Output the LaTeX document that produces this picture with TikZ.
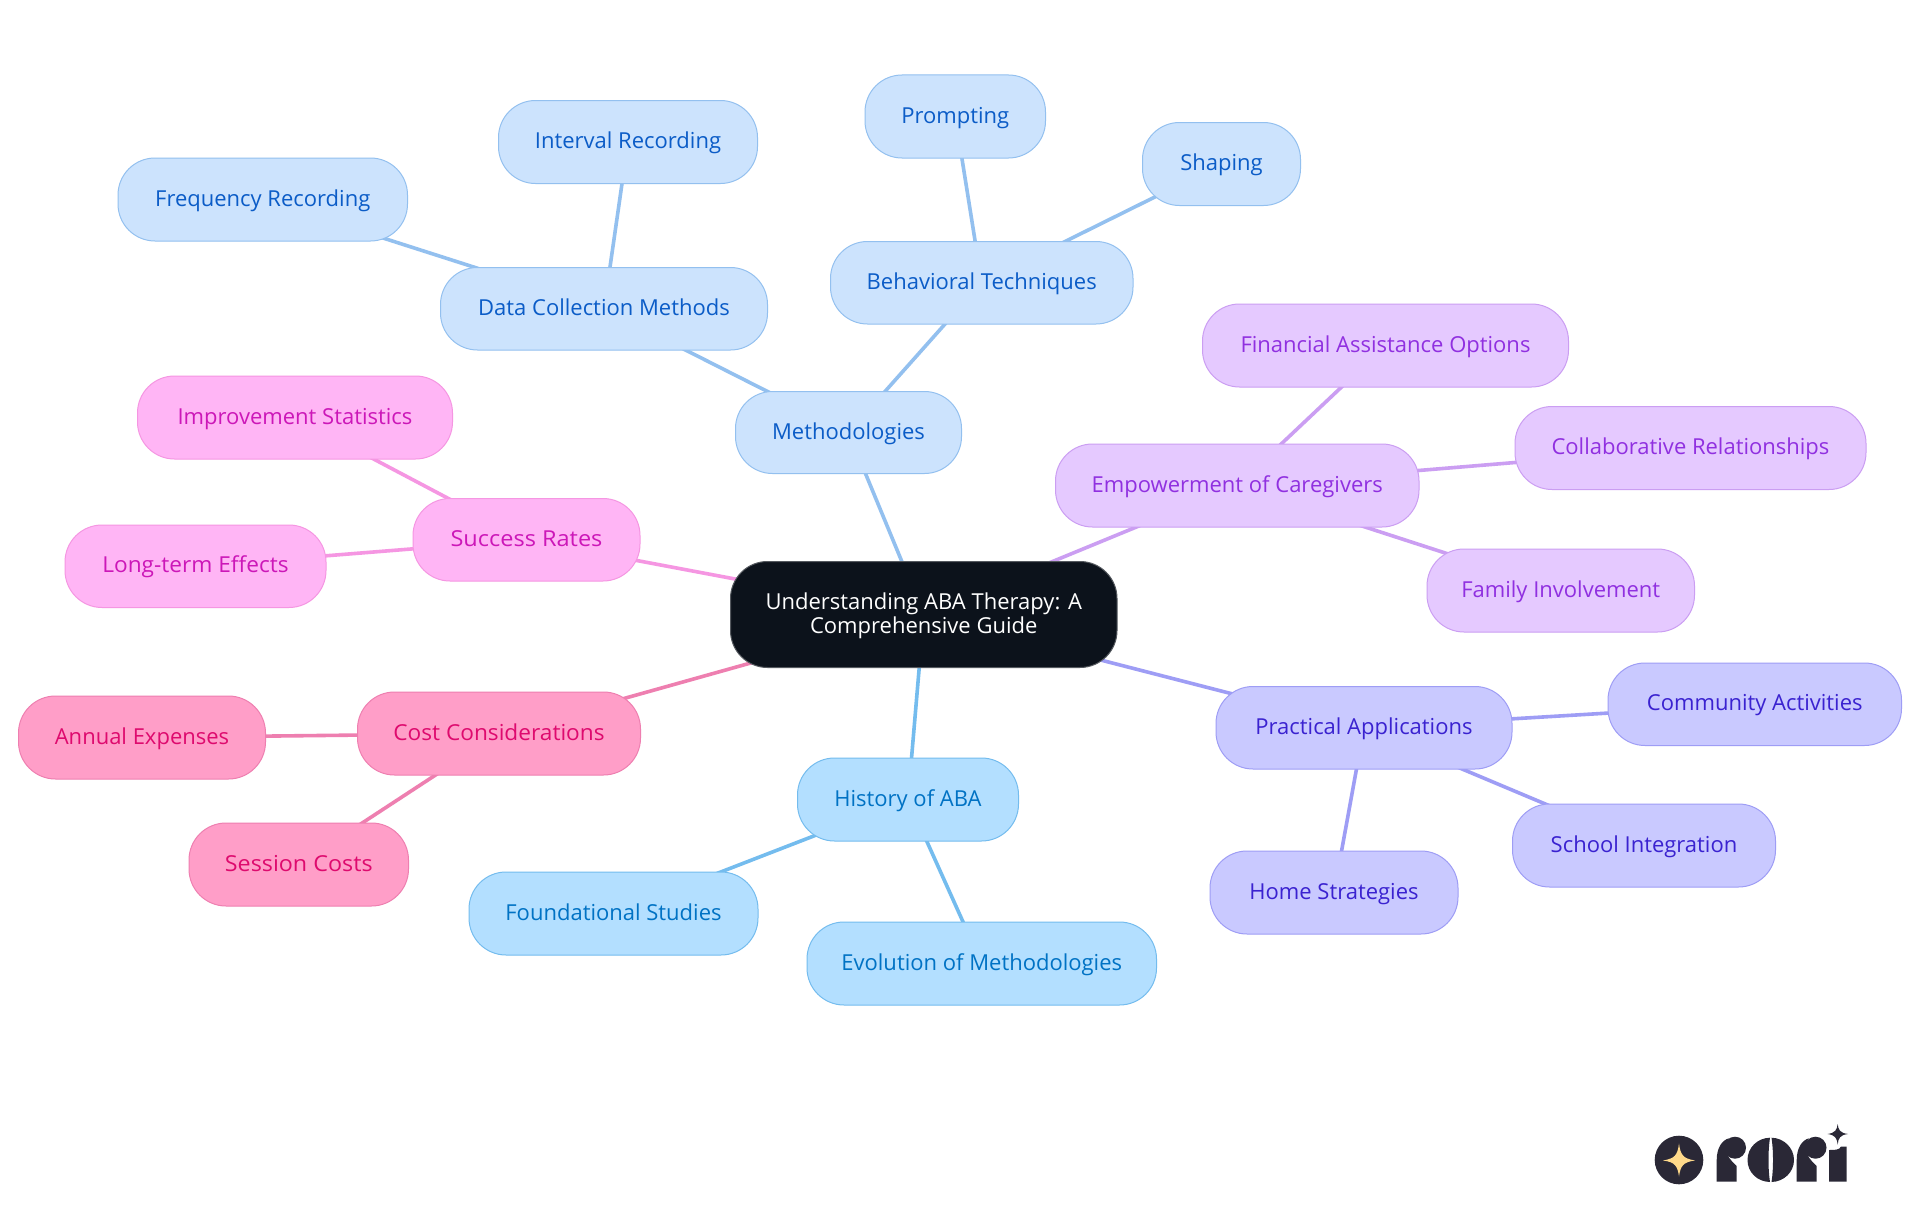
\documentclass[tikz,border=0pt]{standalone}
\usepackage{fontspec}
\setmainfont{Open Sans}
\usetikzlibrary{backgrounds}
\definecolor{bluefill}{HTML}{CCE3FD}\definecolor{blueline}{HTML}{93C0EF}\definecolor{bluetext}{HTML}{0B5CC7}
\definecolor{skyfill}{HTML}{B3DFFF}\definecolor{skyline}{HTML}{74BCEE}\definecolor{skytext}{HTML}{0072C4}
\definecolor{indfill}{HTML}{C9C9FF}\definecolor{indline}{HTML}{9E9DF5}\definecolor{indtext}{HTML}{3A22D0}
\definecolor{purfill}{HTML}{E5C9FF}\definecolor{purline}{HTML}{CB9EF2}\definecolor{purtext}{HTML}{9030E0}
\definecolor{magfill}{HTML}{FFB5F5}\definecolor{magline}{HTML}{F596E2}\definecolor{magtext}{HTML}{CC17B8}
\definecolor{pinkfill}{HTML}{FF9EC8}\definecolor{pinkline}{HTML}{EE7FB0}\definecolor{pinktext}{HTML}{DE0A6E}
\definecolor{rootfill}{HTML}{0C121B}\definecolor{logodark}{HTML}{2A2836}\definecolor{logostar}{HTML}{FFD98A}
\tikzset{
  x=1pt,y=-1pt,
  box/.style={rounded corners=37pt,line width=1pt,inner sep=0pt,outer sep=0pt,font=\fontsize{22}{24}\selectfont,align=center,anchor=center},
  leafbox/.style={box,text height=18pt,text depth=5pt},
  bluebox/.style={leafbox,fill=bluefill,draw=blueline,text=bluetext},
  skybox/.style={leafbox,fill=skyfill,draw=skyline,text=skytext},
  indbox/.style={leafbox,fill=indfill,draw=indline,text=indtext},
  purbox/.style={leafbox,fill=purfill,draw=purline,text=purtext},
  magbox/.style={leafbox,fill=magfill,draw=magline,text=magtext},
  pinkbox/.style={leafbox,fill=pinkfill,draw=pinkline,text=pinktext},
  rootbox/.style={box,text depth=3.5pt,fill=rootfill,draw=rootfill!70!white,text=white},
  edge/.style={line width=3.6pt}
}
\newcommand{\bx}[7]{\node[#1,minimum width=#5pt-#3pt,minimum height=#6pt-#4pt] (#2) at ({(#3+#5)/2},{(#4+#6)/2}) {#7};}
\newcommand{\wide}[2]{{\addfontfeature{FakeStretch=#1}#2}}
\begin{document}
\begin{tikzpicture}
\useasboundingbox (0,0) rectangle (1920,1215);
\bx{rootbox}{root}{730.5}{561.5}{1117}{667.5}{Understanding ABA Therapy: A\\Comprehensive Guide}
\bx{bluebox}{meth}{735.5}{391.5}{961.5}{473.5}{Methodologies}
\bx{bluebox}{data}{440.5}{267.5}{767.5}{350}{Data Collection Methods}
\bx{bluebox}{behav}{830.5}{241.5}{1133}{324}{Behavioral Techniques}
\bx{bluebox}{inter}{498.5}{100.5}{757.5}{183.5}{Interval Recording}
\bx{bluebox}{freq}{118}{158}{407.5}{241}{Frequency Recording}
\bx{bluebox}{prompt}{865}{75}{1045.5}{158}{Prompting}
\bx{bluebox}{shape}{1142.5}{122.5}{1300.5}{205.5}{Shaping}
\bx{purbox}{empow}{1055.5}{444}{1419}{527}{Empowerment of Caregivers}
\bx{purbox}{finan}{1202.5}{304}{1568.5}{387}{Financial Assistance Options}
\bx{purbox}{collab}{1515}{406.5}{1866}{489.5}{Collaborative Relationships}
\bx{purbox}{family}{1427}{549}{1694.5}{632}{Family Involvement}
\bx{indbox}{pract}{1216}{686.5}{1512}{769}{Practical Applications}
\bx{indbox}{commun}{1608}{663}{1901.5}{745.5}{Community Activities}
\bx{indbox}{school}{1512.5}{804}{1775.5}{887}{School Integration}
\bx{indbox}{home}{1210}{851}{1458}{934}{Home Strategies}
\bx{skybox}{hist}{797.5}{758}{1018.5}{841}{History of ABA}
\bx{skybox}{found}{469}{872}{758}{955}{Foundational Studies}
\bx{skybox}{evol}{807}{922}{1156.5}{1005}{Evolution of Methodologies}
\bx{pinkbox}{cost}{357.5}{692}{640.5}{775}{\wide{1.03}{Cost Considerations}}
\bx{pinkbox}{annual}{18.5}{696}{265.5}{779}{Annual Expenses}
\bx{pinkbox}{session}{189}{823}{408.5}{906}{\wide{1.06}{Session Costs}}
\bx{magbox}{succ}{413}{498.5}{640}{581}{\wide{1.07}{Success Rates}}
\bx{magbox}{improve}{137.5}{376}{452.5}{459}{Improvement Statistics}
\bx{magbox}{long}{65}{525}{326}{607.5}{\wide{1.03}{Long-term Effects}}
\begin{scope}[on background layer]
\fill[white] (0,0) rectangle (1920,1215);
\draw[edge,blueline] (root.center)--(meth.center) (meth.center)--(data.center) (meth.center)--(behav.center)
  (data.center)--(inter.center) (data.center)--(freq.center) (behav.center)--(prompt.center) (behav.center)--(shape.center);
\draw[edge,purline] (root.center)--(empow.center) (empow.center)--(finan.center) (empow.center)--(collab.center) (empow.center)--(family.center);
\draw[edge,indline] (root.center)--(pract.center) (pract.center)--(commun.center) (pract.center)--(school.center) (pract.center)--(home.center);
\draw[edge,skyline] (root.center)--(hist.center) (hist.center)--(found.center) (hist.center)--(evol.center);
\draw[edge,pinkline] (root.center)--(cost.center) (cost.center)--(annual.center) (cost.center)--(session.center);
\draw[edge,magline] (root.center)--(succ.center) (succ.center)--(improve.center) (succ.center)--(long.center);
\end{scope}
% logo
\fill[logodark] (1679,1160) circle (24.3);
\fill[logostar] (1679,1143.5) .. controls (1680.5,1155) and (1683,1158.5) .. (1695,1160.5) .. controls (1683,1162) and (1680.5,1166) .. (1679,1176.5) .. controls (1677.5,1166) and (1675,1162) .. (1663,1160.5) .. controls (1675,1158.5) and (1677.5,1155) .. (1679,1143.5) -- cycle;
% r
\fill[logodark] (1716.7,1181.7) -- (1716.7,1160) .. controls (1716.7,1148) and (1722,1140) .. (1729,1138.3) .. controls (1723,1146) and (1725,1156) .. (1736.7,1166) -- (1736.7,1181.7) -- cycle;
\fill[logodark] (1735,1147.7) circle (11);
% o
\fill[logodark] (1770,1137.7) .. controls (1757,1138) and (1747.5,1148) .. (1747.5,1160) .. controls (1747.5,1172) and (1757,1181.7) .. (1770,1182) .. controls (1768,1170) and (1768,1150) .. (1770,1137.7) -- cycle;
\fill[logodark] (1771.5,1137.7) .. controls (1784,1138) and (1794,1148) .. (1794,1160) .. controls (1794,1172) and (1784,1181.7) .. (1771.5,1182) .. controls (1773.5,1170) and (1773.5,1150) .. (1771.5,1137.7) -- cycle;
% second r
\fill[logodark] (1796.7,1181.7) -- (1796.7,1160) .. controls (1796.7,1148) and (1802,1140) .. (1809,1138.3) .. controls (1803,1146) and (1805,1156) .. (1816.7,1166) -- (1816.7,1181.7) -- cycle;
\fill[logodark] (1815.5,1147.7) circle (11);
% i
\fill[logodark] (1829,1181.7) -- (1829,1150) .. controls (1835,1150) and (1839,1150) .. (1841,1146.7) -- (1846.7,1146.7) -- (1846.7,1181.7) -- cycle;
\fill[logodark] (1837.7,1124) .. controls (1838.3,1130) and (1840,1133) .. (1848,1134) .. controls (1840,1135) and (1838.3,1138) .. (1837.7,1144.5) .. controls (1837,1138) and (1835,1135) .. (1827.5,1134) .. controls (1835,1133) and (1837,1130) .. (1837.7,1124) -- cycle;
\end{tikzpicture}
\end{document}
